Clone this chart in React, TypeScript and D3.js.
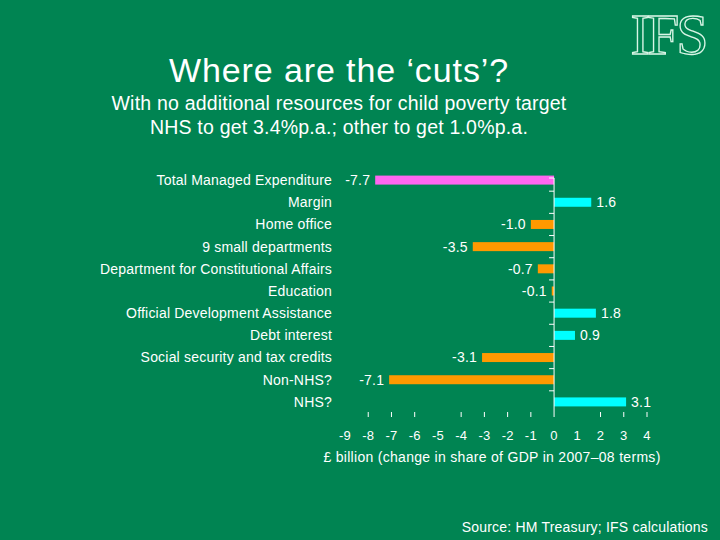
import React from 'react';
import * as d3 from 'd3';

const categories = [
  'Total Managed Expenditure',
  'Margin',
  'Home office',
  '9 small departments',
  'Department for Constitutional Affairs',
  'Education',
  'Official Development Assistance',
  'Debt interest',
  'Social security and tax credits',
  'Non-NHS?',
  'NHS?',
];
const values = [-7.7, 1.6, -1.0, -3.5, -0.7, -0.1, 1.8, 0.9, -3.1, -7.1, 3.1];
const xTicks = [-9, -8, -7, -6, -5, -4, -3, -2, -1, 0, 1, 2, 3, 4];
// the reference only shows tick marks at some of them
const xTickMarks = [-8, -7, -6, -4, -3, -2, -1, 2, 3, 4];

const W = 720;
const H = 540;
const bg = '#008452';
const font = '"Liberation Sans", Arial, sans-serif';

const App: React.FC = () => {
  const x = d3.scaleLinear().domain([-9, 4]).range([345, 647]);
  const y = d3.scaleBand<string>().domain(categories).range([169, 413]);
  const barH = 9;
  const axisTop = 178;

  const colorOf = (v: number, i: number) =>
    i === 0 ? '#ff66f0' : v < 0 ? '#ff9900' : '#00ffff';

  return (
    <svg width={W} height={H} style={{ display: 'block', position: 'absolute', left: 0, top: 0 }}>
      <rect width={W} height={H} fill={bg} />

      <text
        x={668}
        y={54}
        textAnchor="middle"
        fontFamily='"Liberation Serif", "DejaVu Serif", serif'
        fontSize={58}
        fill={bg}
        stroke="#d8f5e6"
        strokeWidth={1.3}
        letterSpacing={-3}
      >
        IFS
      </text>

      <g fontFamily={font} fill="#fff">
        <text x={339} y={82} textAnchor="middle" fontSize={34} letterSpacing={0.9}>
          Where are the ‘cuts’?
        </text>
        <text x={339} y={110} textAnchor="middle" fontSize={19.5} letterSpacing={0.2}>
          With no additional resources for child poverty target
        </text>
        <text x={339} y={134} textAnchor="middle" fontSize={19.5} letterSpacing={0.2}>
          NHS to get 3.4%p.a.; other to get 1.0%p.a.
        </text>
      </g>

      {/* bars */}
      {values.map((v, i) => {
        const c = categories[i];
        const cy = (y(c) as number) + y.bandwidth() / 2;
        return (
          <rect
            key={c}
            x={Math.min(x(0), x(v))}
            y={cy - barH / 2}
            width={Math.abs(x(v) - x(0))}
            height={barH}
            fill={colorOf(v, i)}
          />
        );
      })}

      {/* vertical axis */}
      <g stroke="#fff" strokeWidth={1}>
        <line x1={x(0)} x2={x(0)} y1={axisTop} y2={417} />
        <line x1={x(0) - 5} x2={x(0)} y1={axisTop} y2={axisTop} />
        {categories.slice(1).map((c) => (
          <line key={c} x1={x(0) - 5} x2={x(0)} y1={y(c) as number} y2={y(c) as number} />
        ))}
        {xTickMarks.map((t) => (
          <line key={t} x1={x(t)} x2={x(t)} y1={412} y2={417} />
        ))}
      </g>

      <g fontFamily={font} fill="#fff" fontSize={14} letterSpacing={0.2}>
        {categories.map((c) => (
          <text
            key={c}
            x={332}
            y={(y(c) as number) + y.bandwidth() / 2}
            dy="0.35em"
            textAnchor="end"
          >
            {c}
          </text>
        ))}
        {values.map((v, i) => {
          const c = categories[i];
          return (
            <text
              key={c}
              x={v < 0 ? x(v) - 5 : x(v) + 5}
              y={(y(c) as number) + y.bandwidth() / 2}
              dy="0.35em"
              textAnchor={v < 0 ? 'end' : 'start'}
            >
              {v.toFixed(1)}
            </text>
          );
        })}
        {xTicks.map((t) => (
          <text key={t} x={x(t)} y={440} textAnchor="middle" fontSize={13}>
            {t}
          </text>
        ))}
        <text x={492} y={462} textAnchor="middle" letterSpacing={0.3}>
          £ billion (change in share of GDP in 2007–08 terms)
        </text>
        <text x={708} y={532} textAnchor="end">
          Source: HM Treasury; IFS calculations
        </text>
      </g>
    </svg>
  );
};

export default App;
